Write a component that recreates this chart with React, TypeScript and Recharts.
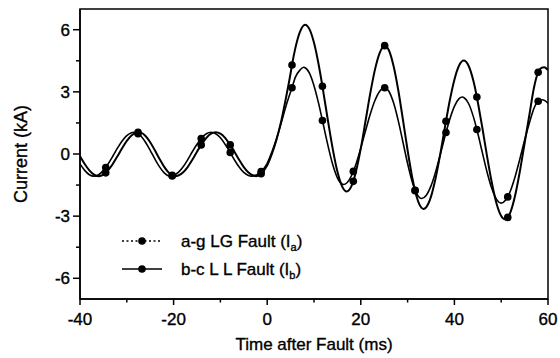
import React from "react";
import {
  ComposedChart,
  Line,
  XAxis,
  YAxis,
  ReferenceArea,
} from "recharts";

// a-g LG fault current (Ia), kA vs ms after fault
const aTime = [
  -40, -39, -38, -37, -36, -35, -34.5, -34, -33, -32, -31, -30, -29, -28.5, -28, -27.6, -27, -26, -25, -24, -23, -22, -21,
  -20.6, -20.3, -20, -19, -18, -17, -16, -15, -14.1, -14, -13, -12, -11, -10, -9, -8, -7.9, -7, -6, -5, -4, -3.4, -3, -2,
  -1.3, -1, 0, 1, 2, 3, 4, 5, 5.3, 6, 7, 7.8, 8, 9, 10, 11, 11.8, 12, 13, 14, 15, 16, 16.3, 17, 18, 18.4, 19, 20, 21, 22,
  23, 24, 25.1, 26, 27, 28, 29, 30, 31, 31.6, 32, 33, 34, 35, 36, 37, 38, 38.2, 39, 40, 41, 41.7, 42, 43, 44, 44.8, 45,
  46, 47, 48, 49, 50, 51, 51.4, 52, 53, 54, 55, 56, 57, 57.9, 58.8, 60,
];
const aCurrent = [
  -0.48, -0.79, -1.0, -1.07, -1.0, -0.79, -0.65, -0.48, -0.11, 0.28, 0.63, 0.89, 1.03, 1.05, 1.03, 0.98, 0.87, 0.57, 0.18,
  -0.24, -0.62, -0.91, -1.06, -1.07, -1.06, -1.04, -0.89, -0.63, -0.28, 0.11, 0.47, 0.75, 0.78, 0.98, 1.05, 0.98, 0.78,
  0.47, 0.11, 0.07, -0.28, -0.63, -0.89, -1.04, -1.07, -1.05, -0.97, -0.85, -0.78, -0.45, 0.1, 0.75, 1.5, 2.3, 3.0, 3.2,
  3.7, 4.05, 4.19, 4.18, 3.92, 3.3, 2.43, 1.62, 1.41, 0.39, -0.51, -1.15, -1.45, -1.47, -1.4, -1.05, -0.84, -0.47, 0.29,
  1.11, 1.91, 2.57, 3.02, 3.2, 3.03, 2.47, 1.61, 0.58, -0.46, -1.35, -1.75, -1.94, -2.15, -1.99, -1.54, -0.85, -0.01,
  0.87, 1.04, 1.67, 2.3, 2.67, 2.75, 2.73, 2.45, 1.84, 1.18, 1.0, 0.04, -0.89, -1.67, -2.19, -2.37, -2.21, -2.07, -1.76,
  -1.07, -0.23, 0.66, 1.48, 2.2, 2.55, 2.62, 2.45,
];

// b-c LL fault current (Ib)
const bTime = [
  -40, -39, -38, -37, -36, -35, -34.5, -34, -33, -32, -31, -30, -29, -28, -27.6, -27.5, -27, -26, -25, -24, -23, -22, -21,
  -20.3, -20, -19.6, -19, -18, -17, -16, -15, -14.1, -14, -13, -12, -11, -10, -9, -8, -7.9, -7, -6, -5, -4, -3, -2.4, -2,
  -1.3, -1, 0, 1, 2, 3, 4, 5, 5.3, 6, 7, 8.1, 9, 10, 11, 11.8, 12, 13, 14, 15, 16, 17, 18, 18.4, 19, 20, 21, 22, 23, 24,
  25.1, 26, 27, 28, 29, 30, 31, 31.6, 32, 33, 33.4, 34, 35, 36, 37, 38, 38.2, 39, 40, 41, 42, 43, 44, 44.8, 45, 46, 47,
  48, 49, 50, 50.8, 51, 51.4, 52, 53, 54, 55, 56, 57, 57.9, 58.5, 59.2, 60,
];
const bCurrent = [
  -0.11, -0.48, -0.79, -1.0, -1.07, -1.0, -0.91, -0.79, -0.48, -0.11, 0.28, 0.63, 0.89, 1.03, 1.05, 1.05, 1.03, 0.87, 0.57,
  0.18, -0.24, -0.62, -0.91, -1.03, -1.06, -1.07, -1.04, -0.89, -0.63, -0.28, 0.11, 0.44, 0.47, 0.78, 0.98, 1.05, 0.98,
  0.78, 0.47, 0.44, 0.11, -0.28, -0.63, -0.89, -1.04, -1.07, -1.05, -0.95, -0.88, -0.55, 0.0, 0.7, 1.6, 2.7, 3.9, 4.3,
  5.1, 5.9, 6.24, 6.04, 5.37, 4.31, 3.27, 2.99, 1.58, 0.25, -0.85, -1.56, -1.81, -1.55, -1.32, -0.82, 0.27, 1.58, 2.9,
  4.05, 4.86, 5.23, 5.01, 4.25, 3.09, 1.66, 0.18, -1.14, -1.77, -2.11, -2.6, -2.65, -2.56, -2.06, -1.15, 0.02, 1.32,
  1.58, 2.57, 3.59, 4.27, 4.51, 4.27, 3.58, 2.75, 2.51, 1.23, -0.14, -1.39, -2.39, -2.99, -3.15, -3.14, -3.06, -2.79,
  -1.98, -0.82, 0.52, 1.86, 3.2, 3.95, 4.15, 4.19, 4.05,
];

const markerTimes = [-34.5, -27.6, -20.3, -14.1, -7.9, -1.3, 5.3, 11.8, 18.4, 25.1, 31.6, 38.2, 44.8, 51.4, 57.9];

const xTicks = [-40, -30, -20, -10, 0, 10, 20, 30, 40, 50, 60];
const yTicks = [-6, -4.5, -3, -1.5, 0, 1.5, 3, 4.5, 6];

const FONT = "'Liberation Sans', Arial, sans-serif";
const textStyle = { fontFamily: FONT, fill: "#000", stroke: "#000", strokeWidth: 0.35 };

const aData = aTime.map((t, i) => ({ t, v: aCurrent[i] }));
const bData = bTime.map((t, i) => ({ t, v: bCurrent[i] }));

const renderDot = (props: any) => {
  const { cx, cy, payload, index } = props;
  if (!markerTimes.includes(payload.t)) return <g key={`n${index}`} />;
  return <circle key={`m${index}`} cx={cx} cy={cy} r={3.8} fill="#000" />;
};

const XTick = (props: any) => {
  const { x, y, payload } = props;
  const major = payload.value % 20 === 0;
  return (
    <g>
      <line x1={x} y1={y} x2={x} y2={y + (major ? 6 : 3.5)} stroke="#000" strokeWidth={1.5} />
      {major && (
        <text x={x} y={y + 26} textAnchor="middle" fontSize={17} style={textStyle}>
          {payload.value}
        </text>
      )}
    </g>
  );
};

const YTick = (props: any) => {
  const { x, y, payload } = props;
  const major = payload.value % 3 === 0;
  return (
    <g>
      <line x1={x - (major ? 7 : 4)} y1={y} x2={x} y2={y} stroke="#000" strokeWidth={1.5} />
      {major && (
        <text x={x - 10} y={y + 6} textAnchor="end" fontSize={17} style={textStyle}>
          {payload.value}
        </text>
      )}
    </g>
  );
};

function Legend() {
  const rows = [
    { label: "a-g LG Fault (I", sub: "a", dash: "2 2.5", y: 13 },
    { label: "b-c L L Fault (I", sub: "b", dash: undefined, y: 41 },
  ];
  return (
    <svg width={230} height={60} style={{ position: "absolute", left: 110, top: 228 }}>
      {rows.map((r) => (
        <g key={r.sub}>
          <line x1={12} y1={r.y} x2={52} y2={r.y} stroke="#000" strokeWidth={1.5} strokeDasharray={r.dash} />
          <circle cx={32} cy={r.y} r={3.8} fill="#000" />
          <text x={71} y={r.y + 6} fontSize={17} style={textStyle}>
            {r.label}
            <tspan fontSize={11} dy={4}>{r.sub}</tspan>
            <tspan dy={-4}>)</tspan>
          </text>
        </g>
      ))}
    </svg>
  );
}

export default function App() {
  return (
    <div style={{ position: "absolute", left: 0, top: 0, width: 560, height: 358, background: "#fff" }}>
      <ComposedChart width={560} height={358} margin={{ top: 9, right: 12, bottom: 0, left: 0 }}>
        <XAxis
          type="number"
          dataKey="t"
          domain={[-40, 60]}
          ticks={xTicks}
          interval={0}
          tickSize={0}
          tickMargin={0}
          tickLine={false}
          tick={<XTick />}
          height={59}
          axisLine={{ stroke: "#000", strokeWidth: 1.5 }}
          allowDataOverflow
          label={{
            content: (p: any) => {
              const vb = p.viewBox;
              return (
                <text x={vb.x + vb.width / 2} y={vb.y + 51} textAnchor="middle" fontSize={17} style={textStyle}>
                  Time after Fault (ms)
                </text>
              );
            },
          }}
        />
        <YAxis
          type="number"
          domain={[-7, 7]}
          ticks={yTicks}
          interval={0}
          tickSize={0}
          tickMargin={0}
          tickLine={false}
          tick={<YTick />}
          width={80}
          axisLine={{ stroke: "#000", strokeWidth: 1.5 }}
          allowDataOverflow
          label={{
            content: (p: any) => {
              const vb = p.viewBox;
              const cx = vb.x + 27;
              const cy = vb.y + vb.height / 2;
              return (
                <text x={cx} y={cy} transform={`rotate(-90 ${cx} ${cy})`} textAnchor="middle" fontSize={18} style={textStyle}>
                  Current (kA)
                </text>
              );
            },
          }}
        />
        <ReferenceArea x1={-40} x2={60} y1={-7} y2={7} fill="none" stroke="#000" strokeWidth={1.5} />
        <Line
          data={aData}
          dataKey="v"
          type="monotone"
          stroke="#000"
          strokeWidth={1.6}
          dot={renderDot}
          activeDot={false}
          isAnimationActive={false}
        />
        <Line
          data={bData}
          dataKey="v"
          type="monotone"
          stroke="#000"
          strokeWidth={2}
          dot={renderDot}
          activeDot={false}
          isAnimationActive={false}
        />
      </ComposedChart>
      <Legend />
    </div>
  );
}
